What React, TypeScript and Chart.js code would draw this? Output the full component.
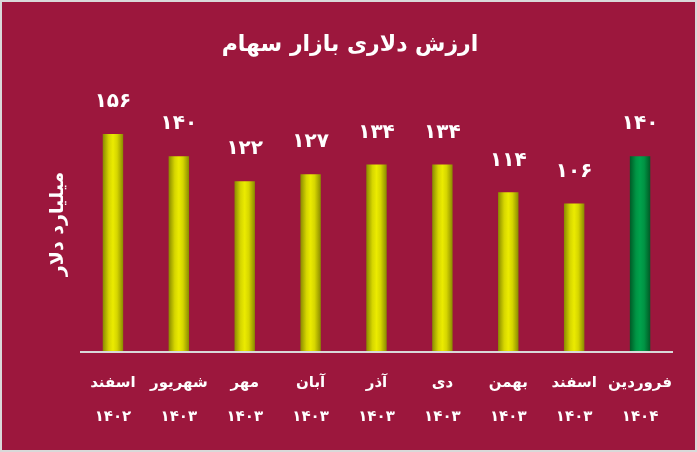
import React, { useEffect, useRef } from "react";
import { Chart, registerables } from "chart.js";

Chart.register(...registerables);

const months = ["اسفند", "شهریور", "مهر", "آبان", "آذر", "دی", "بهمن", "اسفند", "فروردین"];
const years = ["۱۴۰۲", "۱۴۰۳", "۱۴۰۳", "۱۴۰۳", "۱۴۰۳", "۱۴۰۳", "۱۴۰۳", "۱۴۰۳", "۱۴۰۴"];
const values = [156, 140, 122, 127, 134, 134, 114, 106, 140];
const highlight = [false, false, false, false, false, false, false, false, true];
const titleText = "ارزش دلاری بازار سهام";
const yTitleText = "میلیارد دلار";

const BG = "#9c173d";
const FONT = "'DejaVu Sans', sans-serif";
const BAR_PCT = 0.31;

const toFa = (n: number) => String(n).replace(/[0-9]/g, (d) => "۰۱۲۳۴۵۶۷۸۹"[Number(d)]);

export default function App() {
  const ref = useRef<HTMLCanvasElement | null>(null);
  useEffect(() => {
    if (!ref.current) return;
    const bgPlugin = {
      id: "bg",
      beforeDraw(chart: any) {
        const c = chart.ctx;
        c.save();
        c.fillStyle = BG;
        c.fillRect(0, 0, chart.width, chart.height);
        c.restore();
      },
    };
    const valuePlugin = {
      id: "vals",
      afterDatasetsDraw(chart: any) {
        const c = chart.ctx;
        const a = chart.chartArea;
        c.save();
        c.strokeStyle = "#d9d9d9";
        c.lineWidth = 2;
        c.beginPath();
        c.moveTo(a.left, a.bottom + 1);
        c.lineTo(a.right, a.bottom + 1);
        c.stroke();
        const meta = chart.getDatasetMeta(0);
        c.fillStyle = "#ffffff";
        c.font = `bold 20px ${FONT}`;
        c.textAlign = "center";
        c.textBaseline = "middle";
        meta.data.forEach((el: any, i: number) => {
          c.fillText(toFa(values[i]), el.x, el.y - 32);
        });
        c.restore();
      },
    };
    const chart = new Chart(ref.current, {
      type: "bar",
      data: {
        labels: months.map((m, i) => [m, years[i]]),
        datasets: [
          {
            data: values,
            barPercentage: BAR_PCT,
            categoryPercentage: 1,
            borderWidth: 0,
            backgroundColor: (ctx: any) => {
              const ch = ctx.chart;
              const xs = ch.scales?.x;
              const isHi = highlight[ctx.dataIndex];
              if (!ch.chartArea || !xs) return isHi ? "#00a04a" : "#e6e600";
              const cx = xs.getPixelForValue(ctx.dataIndex);
              const w = (xs.width / months.length) * BAR_PCT;
              const g = ch.ctx.createLinearGradient(cx - w / 2, 0, cx + w / 2, 0);
              if (isHi) {
                g.addColorStop(0, "#005a26");
                g.addColorStop(0.3, "#009444");
                g.addColorStop(0.5, "#00a24c");
                g.addColorStop(0.7, "#009444");
                g.addColorStop(1, "#005a26");
              } else {
                g.addColorStop(0, "#8a8a00");
                g.addColorStop(0.3, "#d6d600");
                g.addColorStop(0.5, "#ebeb00");
                g.addColorStop(0.7, "#d6d600");
                g.addColorStop(1, "#8a8a00");
              }
              return g;
            },
          },
        ],
      },
      options: {
        animation: false,
        responsive: true,
        maintainAspectRatio: false,
        layout: { padding: { left: 25, right: 22, top: 0, bottom: 1 } },
        plugins: {
          legend: { display: false },
          tooltip: { enabled: false },
          title: {
            display: true,
            text: titleText,
            color: "#ffffff",
            font: { family: FONT, size: 22, weight: "bold", lineHeight: 1.2 },
            padding: { top: 29.8, bottom: 38.8 },
          },
        },
        scales: {
          x: {
            grid: { display: false, drawTicks: false },
            border: { display: false },
            ticks: {
              color: "#ffffff",
              padding: 15,
              maxRotation: 0,
              autoSkip: false,
              font: { family: FONT, size: 15, weight: "bold", lineHeight: "34px" },
            },
          },
          y: {
            min: 0,
            max: 182.5,
            grid: { display: false, drawTicks: false },
            border: { display: false },
            ticks: { display: false },
            title: {
              display: true,
              text: yTitleText,
              color: "#ffffff",
              font: { family: FONT, size: 19, weight: "bold", lineHeight: 1.2 },
              padding: { top: 19.6, bottom: 10.6 },
            },
          },
        },
      },
      plugins: [bgPlugin, valuePlugin],
    } as any);
    return () => chart.destroy();
  }, []);
  return (
    <div
      style={{
        position: "fixed",
        left: 0,
        top: 0,
        width: 697,
        height: 452,
        boxSizing: "border-box",
        border: "2px solid #d9d9d9",
        background: BG,
      }}
    >
      <canvas ref={ref} style={{ display: "block", width: "100%", height: "100%" }} />
    </div>
  );
}
